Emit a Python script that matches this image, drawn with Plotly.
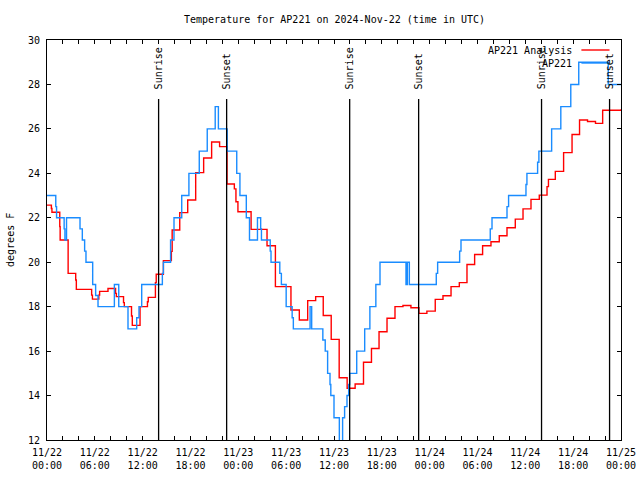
import pandas as pd
import plotly.graph_objects as go

# ---- data ----
start_time = "2024-11-22 00:00"
end_time = "2024-11-25 00:00"

# analysis (red) step series: hours after start, temperature (F)
analysis_hours = [0.0, 0.55, 0.62, 1.6, 1.65, 2.65, 3.6, 3.68, 5.6, 5.7, 6.5, 6.6, 7.65, 8.6, 8.7,
                  9.6, 9.7, 10.6, 10.7, 11.67, 12.6, 12.7, 13.6, 13.7, 14.6, 15.6, 15.7, 16.65,
                  17.65, 18.65, 19.65, 20.65, 21.65, 22.58, 23.5, 23.7, 23.95, 25.6, 27.6, 28.65,
                  30.6, 31.65, 32.7, 33.7, 34.65, 35.65, 36.65, 37.65, 38.65, 39.7, 40.7, 41.65,
                  42.65, 43.65, 44.65, 45.65, 46.65, 47.65, 48.7, 49.67, 50.68, 51.72, 52.68,
                  53.64, 54.64, 55.69, 56.73, 57.7, 58.74, 59.71, 60.71, 61.75, 62.72, 62.9,
                  63.76, 64.8, 65.86, 66.8, 67.8, 68.8, 69.7, 72.0]
analysis_temps = [22.57, 22.42, 22.25, 21.6, 21.0, 19.5, 19.2, 18.78, 18.52, 18.34, 18.52, 18.69,
                  18.82, 18.6, 18.45, 18.18, 18.0, 17.58, 17.16, 18.0, 18.22, 18.42, 19.08, 19.46,
                  20.07, 20.49, 21.45, 22.23, 22.8, 24.03, 24.69, 25.41, 25.2, 23.52, 23.3, 22.72,
                  22.27, 21.48, 20.74, 18.9, 17.85, 17.4, 18.27, 18.45, 17.6, 16.53, 14.8, 14.33,
                  14.52, 15.5, 16.12, 16.87, 17.48, 18.0, 18.05, 17.95, 17.7, 17.8, 18.33, 18.49,
                  18.9, 19.08, 19.9, 20.35, 20.74, 20.92, 21.19, 21.55, 21.94, 22.4, 22.83, 23.02,
                  23.4, 23.73, 24.09, 24.93, 25.75, 26.4, 26.33, 26.25, 26.84, 26.88]

# observations (blue) step series
obs_hours = [0.0, 1.1, 1.2, 2.15, 2.25, 2.45, 4.14, 4.43, 4.72, 4.89, 5.73, 6.1, 6.4, 8.45, 9.0,
             10.16, 11.25, 11.54, 11.88, 14.47, 14.6, 15.5, 15.93, 16.9, 17.8, 19.1, 20.1, 21.1,
             21.5, 22.6, 23.8, 24.2, 25.0, 25.4, 26.4, 26.8, 26.9, 28.0, 28.1, 29.2, 29.4, 30.0,
             30.75, 30.9, 33.0, 33.2, 34.6, 34.9, 35.2, 35.5, 35.6, 36.0, 36.67, 37.08, 37.33,
             37.63, 37.84, 37.96, 38.85, 39.85, 40.5, 41.25, 41.77, 45.03, 45.2, 45.45, 48.83,
             49.0, 51.76, 51.93, 55.6, 55.82, 57.7, 57.9, 60.08, 60.2, 61.54, 61.7, 63.3, 64.45,
             65.7, 66.7, 70.4, 72.0]
obs_temps = [23, 22.5, 22, 21.5, 21, 22, 21.5, 21, 20.5, 20, 19, 18.5, 18, 19, 18,
             17, 17.5, 18, 19, 19.5, 20, 21, 22, 23, 24, 25, 26, 27,
             26, 25, 24, 23, 22, 21, 22, 21.5, 21, 20.5, 20, 19.5, 19, 18,
             17.5, 17, 18, 17, 16.5, 16, 15, 14.5, 14, 13, 11.5, 13, 13.5,
             14, 14.5, 15, 16, 17, 18, 19, 20, 19, 20, 19, 19.5,
             20, 20.5, 21, 21.5, 22, 22.5, 23, 23.5, 24, 24.5, 25, 26, 27,
             28, 29, 28, 28]

sunrise_times = ["2024-11-22 14:00", "2024-11-23 13:58", "2024-11-24 14:02"]
sunset_times = ["2024-11-22 22:32", "2024-11-23 22:37", "2024-11-24 22:34"]

tick_times = pd.date_range(start_time, end_time, freq="6h")
tick_labels = [t.strftime("%m/%d") + "<br>" + t.strftime("%H:%M") for t in tick_times]

title_text = "Temperature for AP221 on 2024-Nov-22 (time in UTC)"
y_label = "degrees F"
series_names = ["AP221 Analysis", "AP221"]
y_range = [12, 30]

# ---- build ----
FONT = "DejaVu Sans Mono, Liberation Mono, monospace"
RED = "#ff0000"
BLUE = "#1a8cff"

t0 = pd.Timestamp(start_time)
ax = [t0 + pd.to_timedelta(h, unit="h") for h in analysis_hours]
ox = [t0 + pd.to_timedelta(h, unit="h") for h in obs_hours]

fig = go.Figure()
fig.add_trace(go.Scatter(x=ax, y=analysis_temps, mode="lines", line_shape="hv",
                         line=dict(color=RED, width=1.4), name=series_names[0]))
fig.add_trace(go.Scatter(x=ox, y=obs_temps, mode="lines", line_shape="hv",
                         line=dict(color=BLUE, width=1.4), name=series_names[1]))

line_top = 27.35
label_base = 27.67
for times, label in [(sunrise_times, "Sunrise"), (sunset_times, "Sunset")]:
    for t in times:
        fig.add_shape(type="line", xref="x", yref="y", x0=t, x1=t, y0=y_range[0], y1=line_top,
                      line=dict(color="black", width=1.3), layer="above")
        fig.add_annotation(x=t, y=label_base, xref="x", yref="y", text=label, textangle=-90,
                           showarrow=False, xanchor="center", yanchor="bottom",
                           font=dict(family=FONT, size=10, color="black"))

# legend (gnuplot style: text on left, sample on right)
leg_rows = [(series_names[0], RED, 0.975), (series_names[1], BLUE, 0.9425)]
for name, col, yp in leg_rows:
    fig.add_annotation(x=0.9187, y=yp, xref="paper", yref="paper", text=name, showarrow=False,
                       xanchor="right", yanchor="middle",
                       font=dict(family=FONT, size=10, color="black"))
    fig.add_shape(type="line", xref="paper", yref="paper", x0=0.931, x1=0.980, y0=yp, y1=yp,
                  line=dict(color=col, width=1.4))

fig.add_annotation(x=0.5, y=1.05, xref="paper", yref="paper", text=title_text, showarrow=False,
                   xanchor="center", yanchor="middle", font=dict(family=FONT, size=10, color="black"))
fig.add_annotation(x=-0.0645, y=0.5, xref="paper", yref="paper", text=y_label, showarrow=False,
                   textangle=-90, xanchor="center", yanchor="middle",
                   font=dict(family=FONT, size=10, color="black"))

fig.update_layout(
    width=640, height=480,
    margin=dict(l=47, r=19, t=40, b=40, autoexpand=False),
    plot_bgcolor="white", paper_bgcolor="white",
    showlegend=False,
    font=dict(family=FONT, size=10, color="black"),
)
fig.update_xaxes(
    type="date", range=[start_time, end_time], automargin=False,
    tickvals=list(tick_times), ticktext=tick_labels,
    showline=True, linecolor="black", linewidth=1, mirror="allticks",
    ticks="inside", ticklen=4, tickcolor="black", tickwidth=1,
    minor=dict(dtick=2 * 3600 * 1000, tick0=start_time, ticks="inside", ticklen=4,
               tickcolor="black", showgrid=False),
    showgrid=False, zeroline=False, ticklabelstandoff=3,
    tickfont=dict(family=FONT, size=10, color="black"),
)
fig.update_yaxes(
    range=y_range, dtick=2, tick0=12, automargin=False,
    showline=True, linecolor="black", linewidth=1, mirror="allticks",
    ticks="inside", ticklen=4, tickcolor="black", tickwidth=1,
    showgrid=False, zeroline=False, ticklabelstandoff=4,
    tickfont=dict(family=FONT, size=10, color="black"),
)

fig.write_html("out.html", config={"displayModeBar": False, "staticPlot": True})

# remove the browser's default page margin so the figure sits at the window origin
with open("out.html", "r", encoding="utf-8") as f:
    html = f.read()
html = html.replace("<head>", "<head><style>html,body{margin:0;padding:0;overflow:hidden;}</style>", 1)
with open("out.html", "w", encoding="utf-8") as f:
    f.write(html)
